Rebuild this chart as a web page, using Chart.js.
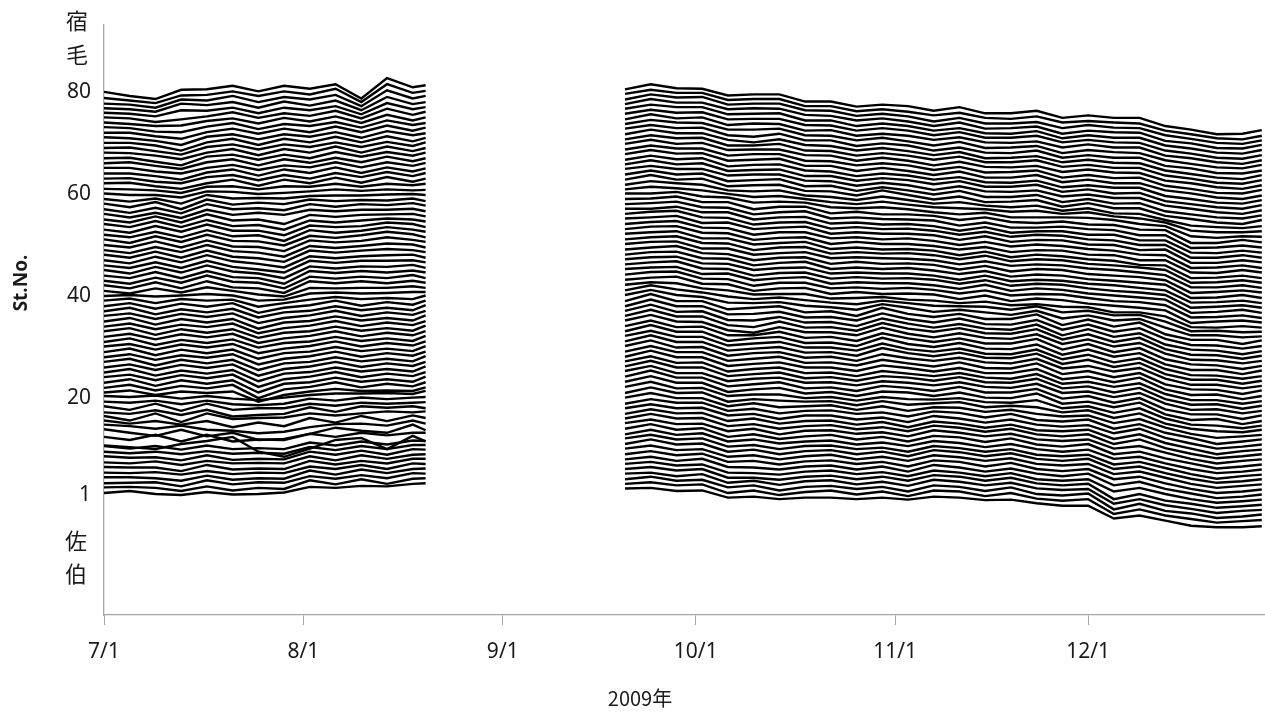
<!DOCTYPE html>
<html>
<head>
<meta charset="utf-8">
<script src="https://cdn.jsdelivr.net/npm/chart.js@4.4.1/dist/chart.umd.min.js"></script>
<style>
html,body{margin:0;padding:0;background:#fff;}
#wrap{width:1265px;height:718px;position:relative;}
</style>
</head>
<body>
<div id="wrap"><canvas id="c" width="1265" height="718"></canvas></div>
<script>
// days counted from 2009-07-01 (day 0)
const leftDays = [0,4,8,12,16,20,24,28,32,36,40,44,48,50];
const rightDays = [81,85,89,93,97,101,105,109,113,117,121,125,129,133,137,141,145,149,153,157,161,165,169,173,177,180];
const xTickDays = [0,31,62,92,123,153];
const xTickLabels = ['7/1','8/1','9/1','10/1','11/1','12/1'];
const yTickValues = [1,20,40,60,80];

// deviation of each station's trace from its St.No. (14 values for Jul–Aug, 26 for Sep–Dec)
const st01 = [.4,.8,.2,0,.6,.1,.2,.5,1.6,1.4,1.8,1.7,2.2,2.3, 1.3,1.4,.8,.9,-.5,-.3,-.8,-.5,-.5,-.8,-.5,-.9,-.3,-.5,-1.0,-.9,-1.6,-2.1,-2.1,-4.6,-4.0,-5.0,-6.0,-6.3,-6.3,-6.1];
const st02 = [.5,.6,.4,-.2,.7,-.1,.4,.2,1.9,1.1,2.1,1.2,2.2,2.3, 1.2,1.5,.9,1.1,-.6,-.1,-1.0,-.4,-.1,-.9,-.3,-1.2,-.1,-.3,-1.2,-.6,-1.7,-2.1,-1.8,-4.7,-3.8,-5.0,-5.7,-6.4,-6.1,-5.9];
const st03 = [.3,.4,.5,-.3,.9,.1,.5,.4,1.7,1.2,1.9,1.3,2.3,2.2, 1.1,1.6,.8,1.0,-.5,-.1,-1.1,-.4,-.2,-.8,-.4,-1.3,-.1,-.4,-1.2,-.5,-1.8,-2.1,-1.7,-4.8,-3.7,-5.1,-5.6,-6.5,-6.2,-5.8];
const st04 = [.5,.5,.3,-.2,.8,0,.3,.2,1.8,1.0,2.0,1.3,2.1,2.2, 1.2,1.4,.7,1.1,-.6,-.2,-1.0,-.3,-.1,-.9,-.4,-1.2,0,-.4,-1.1,-.6,-1.7,-2.0,-1.8,-4.7,-3.8,-5.0,-5.7,-6.5,-6.1,-5.9];
const st05 = [.4,.3,.5,0,.7,.1,.4,.3,1.6,1.1,1.9,1.1,2.2,2.1, 1.1,1.5,.8,1.1,-.6,-.6,-1.0,-.4,-.2,-.9,-.4,-1.2,-.1,-.4,-1.2,-.6,-1.7,-2.1,-1.8,-4.8,-3.8,-5.1,-5.7,-6.5,-6.2,-5.9];
const st06 = [.5,.4,.4,-.3,.9,0,.2,.1,1.7,1.0,1.7,1.2,2.1,2.1, 1.1,1.5,.8,1.0,-.6,-.7,-1.0,-.4,-.2,-.9,-.5,-1.3,-.2,-.6,-1.3,-.7,-1.9,-2.2,-1.9,-4.3,-3.6,-4.8,-5.8,-6.5,-6.2,-5.9];
const st07 = [.4,.2,.6,-.1,.7,.2,.3,.2,1.6,.8,1.8,1.1,1.9,2.0, 1.0,1.5,.7,1.1,-.5,-.6,-1.0,-.4,-.2,-1.0,-.4,-1.4,-.1,-.6,-1.4,-.8,-1.8,-2.3,-1.8,-4.1,-3.4,-4.8,-5.7,-6.6,-6.3,-5.9];
const st08 = [.6,.3,.4,-.2,.8,-.1,.1,0,1.5,.9,1.7,.9,2.0,1.9, 1.0,1.6,.8,1.1,-.5,-.3,-1.0,-.4,-.2,-.9,-.5,-1.4,-.2,-.5,-1.4,-.7,-1.9,-2.3,-1.9,-3.9,-3.4,-4.7,-5.8,-6.6,-6.3,-5.9];
const st09 = [.5,.2,.5,0,.6,.1,.3,.1,1.4,.8,1.6,1.0,1.8,1.8, 1.1,1.7,.8,1.0,-.5,-.2,-1.0,-.4,-.1,-1.0,-.5,-1.3,-.2,-.6,-1.3,-.8,-1.9,-2.2,-1.9,-3.9,-3.4,-4.6,-5.8,-6.6,-6.2,-5.9];
const st10 = [.6,.1,.6,-.1,.7,0,.2,0,1.3,.7,1.5,.9,1.7,1.6, 1.0,1.9,.9,1.1,-.5,-.1,-1.0,-.4,-.2,-1.0,-.5,-1.4,-.2,-.6,-1.4,-.8,-1.9,-2.3,-1.9,-3.9,-3.4,-4.7,-5.8,-6.6,-6.3,-5.9];
const st11 = [-.3,-.6,-1.0,0,.6,1.4,-1.5,-2.5,-.9,.8,1.2,-1.0,1.6,.5, 1.1,1.8,.9,1.1,-.5,-.2,-1.0,-.4,-.3,-1.0,-.7,-1.5,-.4,-.8,-1.5,-1.0,-2.1,-2.4,-2.1,-4.0,-3.5,-4.7,-5.9,-6.8,-6.3,-6.0];
const st12 = [.4,-.2,.8,-.5,.8,-.5,-.1,-.2,1.0,.4,1.2,.7,1.2,1.2, .9,1.8,.8,1.1,-.5,-.1,-.9,-.5,-.3,-1.1,-.7,-1.4,-.4,-.8,-1.6,-1.0,-2.0,-2.5,-2.1,-3.9,-3.5,-4.8,-5.9,-6.7,-6.4,-6.0];
const st13 = [.9,.2,-.4,.8,-.5,.2,-1.2,-1.0,0,1.2,.6,.2,1.8,.7, 1.0,1.9,.8,1.1,-.6,-.1,-1.0,-.5,-.2,-1.1,-.6,-1.5,-.4,-.7,-1.6,-.9,-2.1,-2.5,-2.0,-4.0,-3.5,-4.8,-5.8,-6.8,-6.4,-6.0];
const st14 = [.8,.5,0,.6,-.2,-.4,-.9,-.6,.3,.9,1.0,.6,1.6,1.0, 1.1,1.8,.9,1.0,-.5,0,-1.1,-.4,-.3,-1.0,-.7,-1.5,-.3,-.8,-1.5,-1.0,-2.1,-2.4,-2.1,-3.9,-3.4,-4.7,-5.9,-6.8,-6.3,-6.0];
const st15 = [.6,0,.5,-.2,.5,-.7,.2,-.5,1.1,.2,1.5,.5,1.6,1.1, 1.0,1.9,1.0,1.1,-.5,-.1,-1.0,-.5,-.3,-1.1,-.7,-1.5,-.4,-.8,-1.6,-1.0,-2.1,-2.5,-2.1,-4.0,-3.1,-4.8,-5.9,-6.8,-6.4,-6.0];
const st16 = [.5,-.4,1.0,-.7,1.0,-.1,.1,.2,1.0,.6,1.0,1.4,1.2,1.4, .9,1.8,1.0,1.1,-.5,0,-1.0,-.5,-.4,-1.2,-.7,-1.7,-.6,-1.0,-1.8,-1.2,-2.3,-2.5,-2.2,-4.0,-3.1,-4.8,-5.9,-7.0,-6.4,-6.1];
const st17 = [.2,-.1,.6,-.3,.7,-.6,-.3,-.1,1.2,.3,1.4,1.1,1.4,1.0, 1.0,1.8,1.0,1.1,-.4,-.1,-1.1,-.4,-.4,-1.2,-.8,-1.7,-.5,-1.0,-1.8,-1.2,-2.2,-2.6,-2.3,-3.9,-3.0,-4.8,-5.9,-6.9,-6.5,-6.1];
const st18 = [.4,-.3,.9,-.5,.9,-.3,0,0,.9,.5,1.1,.9,1.1,1.2, .9,1.8,1.1,1.1,-.5,-.1,-1.0,-.5,-.4,-1.1,-.8,-1.6,-.6,-.9,-1.8,-1.1,-2.3,-2.6,-2.2,-4.0,-3.1,-4.8,-5.8,-7.0,-6.5,-6.1];
const st19 = [.3,.1,.5,-.2,.5,-.2,-.4,-.1,.9,.5,1.1,.8,1.1,1.2, 1.1,2.0,1.0,1.0,-.6,0,-.8,-.6,-.4,-1.3,-.6,-1.5,-.8,-.9,-1.7,-1.3,-2.1,-2.6,-2.4,-3.9,-3.1,-4.8,-6.0,-6.8,-6.5,-6.2];
const st20 = [.4,.2,.5,-.1,.4,-.1,-.4,.1,.6,.9,.9,1.0,.8,1.4, 1.0,2.1,1.0,1.1,-.7,-.2,-.5,-.7,-.6,-1.4,-.6,-1.3,-1.0,-.8,-1.8,-1.5,-1.8,-2.8,-2.4,-3.9,-3.0,-5.0,-6.0,-6.5,-6.7,-6.2];
const st21 = [.1,.5,-.4,.3,0,.3,-1.7,-.4,.3,.8,.4,.5,.4,1.1, 1.2,2.2,.9,1.0,-.6,-.3,-.3,-1.0,-.8,-1.5,-.8,-1.2,-1.3,-1.0,-1.8,-1.9,-1.4,-3.0,-2.6,-3.9,-3.0,-5.0,-6.2,-6.4,-6.9,-6.4];
const st22 = [0,.6,-.5,.4,-.1,.6,-2.0,-.3,.2,1.1,.1,.8,.3,1.1, 1.2,2.3,1.0,1.0,-.8,-.3,0,-1.1,-.8,-1.6,-.7,-.9,-1.6,-.9,-1.9,-2.0,-1.1,-3.1,-2.7,-3.8,-2.9,-5.2,-6.3,-6.1,-7.1,-6.5];
const st23 = [0,.7,-.6,.5,-.2,.5,-1.9,-.2,.1,1.0,.2,.7,.2,1.2, 1.2,2.4,1.0,1.0,-.7,-.3,.1,-1.1,-.9,-1.6,-.6,-1.0,-1.6,-.8,-1.9,-1.9,-1.2,-3.1,-2.6,-3.9,-3.0,-5.2,-6.2,-6.2,-7.1,-6.4];
const st24 = [.1,.6,-.5,.5,-.1,.6,-1.8,-.3,.2,1.1,.1,.8,.3,1.1, 1.3,2.3,.9,.9,-.7,-.2,0,-1.0,-.9,-1.5,-.7,-1.0,-1.5,-.9,-1.8,-2.0,-1.2,-3.0,-2.7,-3.8,-3.0,-5.1,-6.3,-6.2,-7.0,-6.5];
const st25 = [0,.7,-.6,.4,-.2,.5,-1.7,-.2,.1,1.0,.2,.7,.2,1.2, 1.2,2.3,1.0,1.0,-.7,-.3,0,-1.1,-.9,-1.6,-.7,-1.0,-1.6,-.9,-1.9,-2.0,-1.2,-3.1,-2.7,-3.9,-3.0,-5.2,-6.3,-6.2,-7.1,-6.5];
const st26 = [0,.6,-.5,.5,-.1,.6,-1.6,-.3,.2,1.1,.1,.8,.3,1.1, 1.2,2.2,.9,1.0,-.8,-.3,0,-1.1,-1.0,-1.7,-.7,-1.2,-1.7,-1.1,-2.0,-2.2,-1.3,-3.2,-2.8,-3.8,-3.1,-5.2,-6.4,-6.4,-7.1,-6.6];
const st27 = [.1,.7,-.6,.5,-.2,.5,-1.5,-.2,.1,1.0,.2,.7,.2,1.2, 1.1,2.3,1.0,1.0,-.7,-.3,0,-1.0,-1.0,-1.7,-.6,-1.1,-1.8,-1.1,-2.1,-2.1,-1.3,-3.3,-2.8,-3.9,-3.0,-5.3,-6.4,-6.3,-7.2,-6.6];
const st28 = [0,.6,-.5,.4,-.1,.6,-1.4,-.3,.2,1.1,.1,.8,.3,1.1, 1.1,2.2,1.0,1.0,-.7,-.3,.1,-1.1,-1.0,-1.6,-.5,-1.2,-1.8,-1.0,-2.1,-2.2,-1.2,-3.3,-2.7,-3.9,-3.1,-5.3,-6.3,-6.4,-7.2,-6.5];
const st29 = [0,.7,-.6,.5,-.2,.5,-1.3,-.2,.1,1.0,.2,.7,.2,1.2, 1.2,2.3,.9,1.0,-.7,-.2,0,-1.1,-.9,-1.7,-.4,-1.2,-1.7,-1.1,-2.0,-2.2,-1.3,-3.2,-2.7,-3.8,-3.1,-5.2,-6.4,-6.4,-7.1,-6.6];
const st30 = [.1,.6,-.5,.5,-.1,.6,-1.2,-.3,.2,1.1,.1,.8,.3,1.1, 1.1,2.3,1.0,1.0,-.7,-.3,0,-1.1,-1.0,-1.7,-.2,-1.2,-1.8,-1.1,-2.1,-2.2,-1.3,-3.3,-2.5,-3.9,-3.1,-5.3,-6.4,-6.4,-7.2,-6.6];
const st31 = [0,.7,-.6,.4,-.2,.5,-1.1,-.2,.1,1.0,.2,.7,.2,1.2, 1.2,2.2,1.0,1.0,-.7,-.3,0,-1.1,-1.1,-1.7,-.3,-1.4,-1.9,-1.3,-2.3,-2.4,-1.5,-3.4,-2.5,-4.0,-3.2,-5.3,-6.5,-6.6,-7.2,-6.7];
const st32 = [0,.6,-.5,.5,-.1,.6,-1.2,-.3,.2,1.1,.1,.8,.3,1.1, 1.1,2.3,1.0,1.0,-.8,-.3,0,-1.2,-1.1,-1.8,-.2,-1.4,-2.0,-1.2,-2.3,-2.4,-1.5,-3.5,-2.5,-3.9,-3.2,-5.4,-6.5,-6.5,-7.3,-6.6];
const st33 = [.1,.7,-.6,.5,-.2,.5,-1.2,-.2,.1,1.0,.2,.7,.2,1.2, 1.1,2.2,.9,1.0,-.7,-.7,0,-1.2,-1.0,-1.8,-.3,-1.3,-2.0,-1.3,-2.3,-2.3,-1.4,-3.5,-2.4,-4.0,-3.2,-5.4,-6.4,-6.6,-7.3,-6.7];
const st34 = [0,.6,-.5,.4,-.1,.6,-1.3,-.3,.2,1.1,.1,.8,.3,1.1, 1.2,2.3,1.0,.9,-.7,-1.2,-.1,-1.1,-1.1,-1.7,-.2,-1.4,-2.1,-1.3,-2.2,-2.4,-1.5,-3.4,-2.5,-3.9,-3.2,-5.3,-6.5,-6.6,-7.2,-6.7];
const st35 = [0,.7,-.6,.5,-.2,.5,-1.4,-.2,.1,1.0,.2,.7,.2,1.2, 1.1,2.3,1.0,1.0,-.7,-1.1,0,-1.2,-1.1,-1.8,-.3,-1.4,-2.0,-1.3,-2.3,-2.4,-1.5,-3.5,-2.5,-4.0,-3.2,-5.4,-6.5,-6.6,-7.3,-6.7];
const st36 = [.1,.6,-.5,.5,-.1,.6,-1.3,-.3,.2,1.1,.1,.8,.3,1.1, 1.1,2.3,.9,1.0,-.7,-.8,-.1,-1.2,-1.1,-1.9,-.4,-1.4,-2.2,-1.5,-2.4,-2.6,-1.6,-3.7,-2.5,-4.0,-3.3,-5.5,-6.5,-6.7,-7.4,-6.8];
const st37 = [0,.7,-.6,.4,-.2,.5,-1.2,-.2,.1,1.0,.2,.7,.2,1.2, 1.0,2.3,1.0,1.0,-.6,-.5,-.1,-1.2,-1.1,-1.8,-.4,-1.5,-2.2,-1.4,-2.5,-2.6,-1.7,-3.6,-2.6,-4.0,-3.3,-5.4,-6.6,-6.7,-7.3,-6.8];
const st38 = [0,.6,-.5,.5,-.1,.6,-1.3,-.3,.2,1.1,.1,.8,.3,1.1, 1.0,2.4,1.0,1.0,-.6,-.3,0,-1.2,-1.0,-1.9,-.3,-1.5,-2.1,-1.5,-2.5,-2.5,-1.6,-3.7,-2.6,-4.0,-3.2,-5.5,-6.6,-6.6,-7.4,-6.7];
const st39 = [.1,.5,-.4,.4,.1,.3,-1.1,-.4,.3,.8,.4,.6,.4,1.1, 1.2,2.2,1.2,.8,-.3,-.4,-.2,-.9,-1.2,-1.7,-.6,-1.3,-2.1,-1.7,-2.2,-2.7,-1.9,-3.4,-2.8,-3.8,-3.5,-5.2,-6.7,-6.7,-7.1,-6.9];
const st40 = [0,.2,-.1,.1,.4,.1,-.9,-.7,.5,.7,.5,.6,.8,.8, 1.1,2.1,1.3,.7,-.1,-.6,-.3,-.8,-1.3,-1.6,-.9,-1.4,-1.9,-2.0,-2.1,-2.7,-2.0,-3.2,-2.9,-3.8,-3.7,-5.0,-6.9,-6.8,-7.1,-7.0];
const st41 = [0,-.5,.5,-.3,.7,0,-.7,-1.1,.6,.5,.6,.6,.9,.6, 1.2,1.7,1.5,.5,.1,-.7,-.6,-.6,-1.5,-1.4,-1.2,-1.7,-1.9,-2.4,-2.1,-2.8,-2.6,-3.1,-3.2,-4.2,-4.2,-5.0,-7.1,-7.2,-6.9,-7.2];
const st42 = [.1,-.5,.7,-.5,.9,-.3,-.5,-1.4,.9,.5,.9,.5,1.0,.6, 1.2,1.6,1.8,.4,.3,-1.0,-.5,-.4,-1.6,-1.2,-1.6,-1.5,-1.7,-2.6,-1.9,-3.0,-2.5,-2.8,-3.5,-3.9,-4.3,-4.8,-7.3,-7.0,-6.8,-7.2];
const st43 = [0,-.6,.6,-.4,1.0,-.2,-.4,-1.5,.8,.4,.8,.5,1.1,.5, 1.2,1.7,1.8,.4,.3,-1.0,-.4,-.4,-1.5,-1.3,-1.6,-1.4,-1.8,-2.5,-1.9,-2.9,-2.6,-2.7,-3.4,-4.0,-4.2,-4.8,-7.2,-7.1,-6.8,-7.3];
const st44 = [0,-.5,.7,-.5,.9,-.3,-.5,-1.6,.9,.5,.9,.6,1.0,.6, 1.3,1.6,1.7,.3,.4,-.9,-.5,-.3,-1.6,-1.3,-1.5,-1.5,-1.9,-2.6,-1.8,-3.0,-2.5,-2.8,-3.5,-3.9,-4.3,-4.7,-7.3,-7.1,-6.7,-7.3];
const st45 = [.1,-.6,.7,-.4,1.0,-.2,-.6,-1.5,.8,.4,.8,.7,1.1,.5, 1.2,1.6,1.8,.4,.3,-1.0,-.5,-.4,-1.6,-1.3,-1.6,-1.5,-1.8,-2.6,-1.9,-3.0,-2.6,-2.8,-3.5,-4.0,-4.3,-4.8,-7.3,-7.1,-6.8,-7.3];
const st46 = [0,-.5,.6,-.5,.9,-.3,-.8,-1.4,.9,.5,.9,.9,1.0,.6, 1.2,1.6,1.7,.4,.3,-.9,-.5,-.4,-1.6,-1.4,-1.6,-1.6,-2.0,-2.8,-2.0,-3.1,-2.8,-3.0,-3.6,-3.9,-4.4,-4.9,-7.3,-7.2,-6.9,-7.4];
const st47 = [0,-.6,.7,-.4,1.0,-.2,-.7,-1.4,.8,.4,.8,1.0,1.1,.5, 1.1,1.6,1.7,.4,.3,-1.0,-.5,-.3,-1.7,-1.4,-1.7,-1.5,-2.0,-2.7,-2.1,-3.2,-2.8,-3.0,-3.7,-4.0,-4.4,-4.8,-7.4,-7.3,-6.8,-7.4];
const st48 = [.1,-.5,.7,-.5,.9,-.3,-.6,-1.3,.9,.5,.9,1.2,1.0,.6, 1.1,1.5,1.8,.4,.2,-1.0,-.5,-.4,-1.7,-1.3,-1.7,-1.6,-1.9,-2.8,-2.1,-3.2,-2.7,-2.9,-3.7,-4.0,-4.3,-4.9,-7.4,-7.2,-6.9,-7.3];
const st49 = [0,-.6,.6,-.4,1.0,-.2,-.5,-1.3,.8,.4,.8,1.3,1.1,.5, 1.2,1.6,1.7,.3,.3,-.9,-.6,-.4,-1.6,-1.4,-1.6,-1.7,-2.0,-2.8,-2.2,-3.1,-2.8,-3.0,-3.6,-3.9,-4.4,-4.9,-7.3,-7.3,-6.9,-7.4];
const st50 = [0,-.5,.7,-.5,.9,-.3,-.4,-1.2,.9,.5,.8,1.5,1.0,.6, 1.1,1.5,1.7,.4,.3,-1.0,-.5,-.4,-1.7,-1.4,-1.7,-1.6,-2.0,-2.8,-2.1,-3.2,-2.8,-3.0,-3.7,-4.0,-4.4,-4.9,-7.4,-7.3,-6.9,-7.4];
const st51 = [.1,-.6,.7,-.4,1.0,-.2,-.3,-1.1,.8,.4,.9,1.6,1.1,.5, 1.2,1.5,1.7,.3,.3,-.9,-.6,-.4,-1.8,-1.5,-1.9,-1.8,-2.1,-3.0,-2.3,-3.4,-2.9,-3.2,-3.8,-4.1,-4.9,-5.0,-7.5,-7.4,-7.0,-7.5];
const st52 = [0,-.5,.6,-.5,.9,-.3,-.1,-1.2,.9,.4,.8,1.5,1.0,.6, 1.1,1.6,1.7,.4,.3,-1.0,-.6,-.5,-1.8,-1.4,-1.8,-1.8,-2.2,-2.9,-2.4,-3.4,-3.0,-3.1,-3.9,-4.0,-5.0,-5.0,-7.4,-7.5,-6.9,-7.4];
const st53 = [0,-.6,.7,-.4,1.0,-.2,-.2,-1.1,.8,.5,.7,1.4,1.1,.5, 1.1,1.5,1.7,.4,.3,-1.0,-.5,-.5,-1.7,-1.5,-1.9,-1.7,-2.2,-3.0,-2.4,-3.3,-2.9,-3.2,-3.8,-4.1,-4.9,-5.0,-7.5,-7.4,-7.0,-7.5];
const st54 = [.1,-.5,.7,-.5,.9,-.3,-.1,-1.0,.8,.4,.8,1.2,1.0,.6, 1.2,1.4,1.7,.3,.4,-.9,-.6,-.4,-1.8,-1.5,-1.8,-1.8,-2.1,-3.0,-2.3,-3.4,-3.0,-3.1,-3.9,-4.0,-5.0,-4.9,-7.5,-7.5,-7.0,-7.4];
const st55 = [0,-.6,.6,-.6,1.0,-.2,0,-.9,.9,.5,.9,1.0,1.1,.6, 1.1,1.5,1.7,.4,.3,-1.0,-.6,-.5,-1.8,-1.5,-1.9,-1.8,-2.2,-3.0,-2.4,-3.4,-3.0,-3.2,-3.9,-4.1,-5.0,-5.0,-7.5,-7.5,-7.0,-7.5];
const st56 = [.1,-.6,.3,-.7,.9,-.1,.3,-.1,.9,.6,.9,.9,1.1,.6, 1.1,1.1,1.5,.4,.4,-1.0,-.6,-.5,-1.8,-1.6,-2.0,-1.9,-2.3,-3.2,-2.5,-3.6,-3.3,-3.3,-4.0,-4.0,-5.1,-5.1,-7.5,-7.6,-7.1,-7.5];
const st57 = [0,-.7,.3,-.8,1.0,0,.2,-.2,1.0,.5,1.0,.8,1.2,.7, 1.0,1.2,1.5,.4,.3,-1.0,-.6,-.4,-1.8,-1.6,-1.9,-2.0,-2.2,-3.2,-2.6,-3.6,-3.6,-3.4,-3.9,-4.1,-5.1,-5.1,-7.6,-7.5,-7.1,-7.5];
const st58 = [.1,-.6,.4,-1.0,.9,-.1,.3,0,.9,.6,.8,.7,1.1,.6, 1.0,1.1,1.5,.4,.4,-1.0,-.5,-.5,-1.8,-1.5,-2.0,-2.0,-2.3,-3.1,-2.6,-3.5,-3.7,-3.4,-4.0,-4.1,-5.0,-5.1,-7.6,-7.6,-7.0,-7.5];
const st59 = [0,-.5,.1,-.9,.8,.1,.2,.1,.6,.7,.7,.9,1.0,.8, 1.1,1.1,1.4,.5,.3,-.7,-.5,-.7,-1.6,-1.8,-1.6,-2.0,-2.6,-3.0,-2.7,-3.6,-3.6,-3.6,-3.7,-4.1,-4.9,-5.3,-7.3,-7.6,-7.3,-7.4];
const st60 = [.1,-.2,-.2,-.7,.5,.4,0,.2,.5,.9,.6,.9,.7,.8, .9,1.4,1.1,.7,0,-.6,-.4,-1.0,-1.6,-2.0,-1.5,-2.1,-2.6,-2.8,-3.0,-3.5,-3.3,-3.9,-3.6,-4.4,-4.8,-5.6,-7.2,-7.5,-7.5,-7.3];
const st61 = [0,-.1,-.3,-.8,.4,.5,-.1,.5,.4,1.0,.4,1.0,.7,1.0, .8,1.5,1.1,.8,-.3,-.5,-.3,-1.3,-1.6,-2.2,-1.5,-2.2,-2.9,-2.6,-3.3,-3.6,-3.3,-4.3,-3.8,-4.8,-4.9,-6.1,-7.2,-7.5,-7.7,-7.3];
const st62 = [.1,.2,-.5,-1.0,.1,.8,-.4,.8,.1,1.2,.2,1.3,.4,1.0, .8,1.7,.8,1.0,-.5,-.3,-.2,-1.4,-1.5,-2.3,-1.3,-2.2,-3.1,-2.5,-3.6,-3.5,-3.2,-4.5,-3.8,-4.8,-4.8,-6.3,-6.9,-7.6,-7.9,-7.1];
const st63 = [0,.1,-.6,-.9,.3,.7,-.3,.7,0,1.1,.3,1.3,.5,1.1, .8,1.6,.8,1.0,-.5,-.3,-.1,-1.5,-1.4,-2.4,-1.7,-2.3,-3.1,-2.4,-3.6,-3.6,-3.2,-4.6,-4.0,-4.9,-4.8,-6.4,-7.0,-7.6,-7.8,-7.2];
const st64 = [0,0,-.5,-1.2,.2,.8,-.4,.8,.1,1.2,.1,1.2,.4,1.0, .9,1.5,.9,.9,-.4,-.2,-.2,-1.4,-1.5,-2.4,-1.8,-2.3,-3.2,-2.5,-3.5,-3.6,-3.3,-4.5,-4.1,-4.8,-4.8,-6.3,-6.9,-7.6,-7.9,-7.2];
const st65 = [.1,.1,-.6,-1.0,.1,.7,-.3,.6,.2,1.2,.2,1.2,.5,1.1, .8,1.6,.8,1.0,-.5,-.3,-.2,-1.5,-1.5,-2.4,-1.9,-2.3,-3.1,-2.5,-3.6,-3.6,-3.2,-4.6,-4.1,-4.9,-4.8,-6.4,-7.0,-7.6,-7.9,-7.2];
const st66 = [0,.2,-.5,-1.1,.2,.8,-.4,.8,.1,1.1,.2,1.3,.4,1.0, .7,1.5,.8,1.0,-.6,-.3,-.2,-1.4,-1.6,-2.5,-2.0,-2.4,-3.2,-2.7,-3.7,-3.8,-3.4,-4.7,-4.3,-4.8,-4.8,-6.4,-7.0,-7.7,-7.9,-7.2];
const st67 = [0,.1,-.7,-1.4,.3,.7,-.3,.7,0,1.2,.3,1.2,.5,1.1, .8,1.6,.9,1.0,-.5,-.3,-.1,-1.5,-1.5,-2.5,-1.9,-2.5,-3.3,-2.6,-3.8,-3.8,-3.3,-4.7,-4.2,-4.9,-4.9,-6.3,-6.9,-7.7,-8.0,-7.3];
const st68 = [.1,0,-.5,-1.2,.1,.8,-.4,.8,.1,1.3,.1,1.3,.4,1.0, .7,1.5,.9,.9,-.5,-.2,-.2,-1.5,-1.6,-2.4,-2.0,-2.4,-3.3,-2.7,-3.8,-3.7,-3.4,-4.8,-4.3,-4.9,-4.8,-6.4,-7.0,-7.8,-7.9,-7.2];
const st69 = [0,.1,-.6,-1.3,.2,.7,-.3,.7,.2,1.1,.2,1.2,.4,1.1, .8,1.6,.8,1.0,-.4,-.3,-.3,-1.4,-1.5,-2.5,-1.9,-2.5,-3.4,-2.7,-3.7,-3.8,-3.5,-4.7,-4.2,-4.8,-4.9,-6.4,-6.9,-7.7,-8.0,-7.3];
const st70 = [0,0,-.5,-1.5,.1,.8,-.4,.8,.1,1.2,.1,1.3,.3,1.0, .7,1.5,.9,1.0,-.5,-.5,-.2,-1.5,-1.6,-2.5,-2.0,-2.5,-3.3,-2.7,-3.8,-3.8,-3.4,-4.7,-4.3,-4.9,-4.9,-6.4,-7.0,-7.8,-8.0,-7.3];
const st71 = [.1,-.1,-.6,-1.4,.2,.7,-.3,.7,.2,1.1,0,1.3,.5,.9, .7,1.6,.9,.9,-.4,-.9,-.3,-1.4,-1.6,-2.5,-2.0,-2.6,-3.4,-2.8,-4.0,-3.9,-3.6,-4.8,-4.3,-4.9,-5.0,-6.4,-7.1,-7.8,-8.1,-7.3];
const st72 = [0,0,-.7,-1.2,.1,.8,-.2,.8,.1,1.2,.1,1.4,.4,1.0, .8,1.5,.9,1.0,-.5,-.8,-.2,-1.5,-1.5,-2.6,-2.1,-2.5,-3.5,-2.9,-3.9,-4.0,-3.5,-4.9,-4.4,-4.9,-4.9,-6.5,-7.0,-7.9,-8.0,-7.4];
const st73 = [.1,-.1,-.8,-.9,.2,.9,-.3,.7,.3,1.1,0,1.4,.5,.9, .7,1.5,1.0,.9,-.4,-.4,-.2,-1.5,-1.6,-2.5,-2.0,-2.7,-3.5,-2.8,-4.0,-3.9,-3.6,-5.0,-4.4,-4.8,-5.0,-6.4,-7.1,-7.8,-8.0,-7.3];
const st74 = [0,-.3,-.7,-.6,.3,.8,-.2,.9,.2,1.2,-.1,1.5,.4,1.0, .6,1.6,.8,1.0,-.5,-.2,-.3,-1.6,-1.5,-2.6,-2.2,-2.6,-3.4,-2.9,-3.9,-4.0,-3.7,-4.9,-4.3,-4.9,-4.9,-6.5,-7.0,-7.8,-8.1,-7.4];
const st75 = [0,-.2,-.9,-.4,.2,1.0,-.1,.8,.3,1.3,-.2,1.7,.5,1.1, .7,1.5,.9,1.0,-.4,-.3,-.3,-1.5,-1.6,-2.6,-2.1,-2.6,-3.5,-2.9,-4.0,-4.0,-3.6,-4.9,-4.4,-4.9,-5.0,-6.5,-7.1,-7.9,-8.1,-7.4];
const st76 = [-.1,-.3,-.8,.4,.3,.9,-.2,.9,.4,1.2,-.4,1.8,.6,1.0, .7,1.5,1.0,1.0,-.4,-.3,-.2,-1.6,-1.6,-2.7,-2.2,-2.7,-3.6,-3.1,-4.1,-4.2,-3.7,-5.1,-4.5,-5.0,-5.0,-6.5,-7.1,-7.9,-8.1,-7.4];
const st77 = [-.2,-.4,-.9,.7,.4,1.0,-.1,1.1,.3,1.3,-.6,2.0,.6,1.0, .6,1.6,.9,.9,-.4,-.2,-.3,-1.5,-1.7,-2.6,-2.2,-2.8,-3.7,-3.0,-4.2,-4.1,-3.8,-5.2,-4.6,-4.9,-5.0,-6.6,-7.1,-8.0,-8.1,-7.4];
const st78 = [-.3,-.5,-1.1,.5,.3,1.2,0,1.0,.5,1.4,-.8,2.3,.7,1.2, .5,1.5,.9,1.0,-.5,-.3,-.3,-1.6,-1.7,-2.7,-2.3,-2.8,-3.8,-3.1,-4.2,-4.2,-3.9,-5.1,-4.5,-5.0,-5.1,-6.5,-7.2,-8.0,-8.2,-7.5];
const st79 = [-.2,-.7,-1.2,.3,.4,1.1,.2,1.1,.5,1.6,-1.0,2.5,.8,1.2, .6,1.4,.8,.8,-.6,-.4,-.4,-1.8,-1.8,-2.8,-2.4,-2.9,-3.6,-3.1,-4.1,-4.3,-3.8,-5.0,-4.7,-5.0,-5.2,-6.6,-7.3,-8.1,-8.3,-7.6];
const st80 = [0,-.8,-1.4,.4,.5,1.2,.1,1.2,.6,1.5,-1.3,2.7,.9,1.3, .5,1.5,.7,.6,-.7,-.5,-.5,-1.9,-1.9,-2.9,-2.5,-2.8,-3.7,-3.0,-4.2,-4.2,-3.7,-5.1,-4.6,-5.1,-5.1,-6.7,-7.4,-8.3,-8.2,-7.5];

const stations = [st01,st02,st03,st04,st05,st06,st07,st08,st09,st10,st11,st12,st13,st14,st15,st16,st17,st18,st19,st20,
  st21,st22,st23,st24,st25,st26,st27,st28,st29,st30,st31,st32,st33,st34,st35,st36,st37,st38,st39,st40,
  st41,st42,st43,st44,st45,st46,st47,st48,st49,st50,st51,st52,st53,st54,st55,st56,st57,st58,st59,st60,
  st61,st62,st63,st64,st65,st66,st67,st68,st69,st70,st71,st72,st73,st74,st75,st76,st77,st78,st79,st80];

const datasets = stations.map((dev, i) => {
  const no = i + 1;
  const pts = [];
  leftDays.forEach((d, j) => pts.push({x: d, y: no + dev[j]}));
  pts.push({x: 65, y: null});
  rightDays.forEach((d, j) => pts.push({x: d, y: no + dev[leftDays.length + j]}));
  return {label: 'St.' + no, data: pts, borderColor: '#000', borderWidth: 2.4,
    pointRadius: 0, pointHoverRadius: 0, tension: 0, fill: false, spanGaps: false};
});

const textColor = '#1a1a1a';
const extraText = {
  id: 'extraText',
  afterDraw(chart) {
    const ctx = chart.ctx;
    ctx.save();
    ctx.fillStyle = textColor;
    ctx.textAlign = 'center';
    ctx.textBaseline = 'middle';
    ctx.font = '22px "Noto Sans CJK JP"';
    ctx.fillText('宿', 77, 21);
    ctx.fillText('毛', 77, 55);
    ctx.fillText('佐', 76, 541);
    ctx.fillText('伯', 76, 574);
    ctx.font = '20px "Noto Sans CJK JP"';
    ctx.fillText('2009年', 640, 698);
    ctx.translate(22, 283);
    ctx.rotate(-Math.PI / 2);
    ctx.font = 'bold 19px "Noto Sans"';
    ctx.fillText('St.No.', 0, 0);
    ctx.restore();
  }
};

new Chart(document.getElementById('c'), {
  type: 'line',
  data: {datasets},
  options: {
    responsive: false,
    animation: false,
    devicePixelRatio: 1,
    events: [],
    layout: {padding: {top: 25, left: 0, right: 0, bottom: 0}},
    plugins: {legend: {display: false}, tooltip: {enabled: false}},
    scales: {
      x: {
        type: 'linear', min: 0, max: 180.5,
        afterBuildTicks: s => { s.ticks = xTickDays.map(v => ({value: v})); },
        ticks: {
          autoSkip: false, maxRotation: 0, padding: 14, color: textColor,
          font: {family: 'Noto Sans', size: 21},
          callback: v => xTickLabels[xTickDays.indexOf(v)]
        },
        grid: {display: true, drawOnChartArea: false, drawTicks: true, tickLength: 10, color: '#a6a6a6', lineWidth: 1},
        border: {display: true, color: '#a6a6a6', width: 1.3},
        afterFit: s => { s.height = 103; }
      },
      y: {
        type: 'linear', min: -22.5, max: 93.1,
        afterBuildTicks: s => { s.ticks = yTickValues.map(v => ({value: v})); },
        ticks: {
          autoSkip: false, padding: 5, color: textColor,
          font: {family: 'Noto Sans', size: 21},
          callback: v => String(v)
        },
        grid: {display: false},
        border: {display: true, color: '#a6a6a6', width: 1.3},
        afterFit: s => { s.width = 104; }
      }
    }
  },
  plugins: [extraText]
});
</script>
</body>
</html>
